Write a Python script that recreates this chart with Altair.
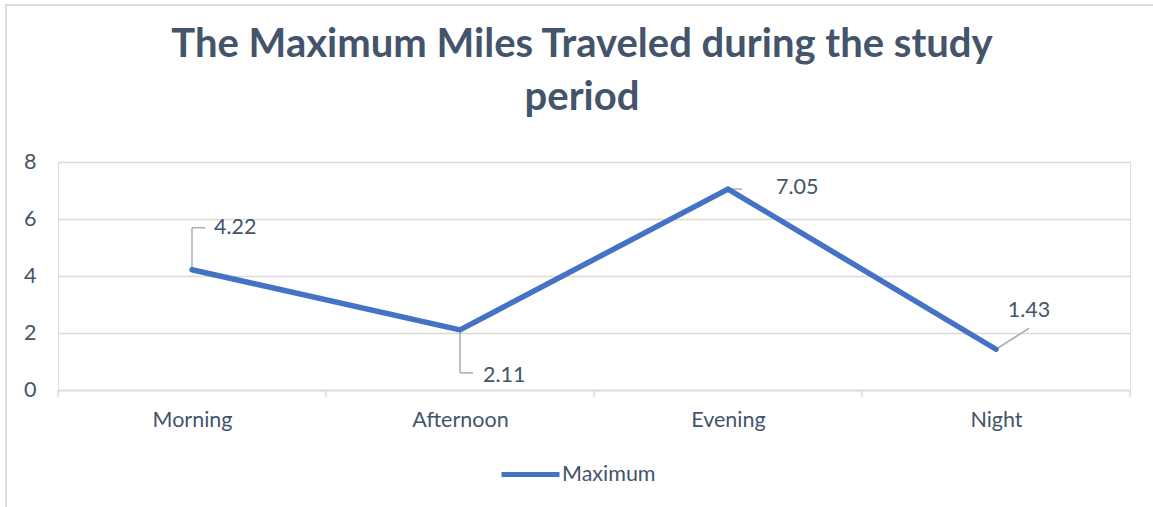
import altair as alt
import pandas as pd

categories = ["Morning", "Afternoon", "Evening", "Night"]
values = [4.22, 2.11, 7.05, 1.43]
labels = ["4.22", "2.11", "7.05", "1.43"]
series_name = "Maximum"
y_ticks = [0, 2, 4, 6, 8]

# pixel geometry of the plot area
W, H = 1072, 228
PX_X = W / 4.0      # px per category index
PX_Y = H / 8.0      # px per y unit

# label anchor offsets in px (dx right, dy up) relative to the point, and leader line paths
label_off = [(22, 42), (23, -46), (48, 1), (33, 38)]
leader_paths = [
    [(0, 0), (0, 42), (13, 42)],
    [(0, 0), (0, -43), (13, -43)],
    [(0, 0), (14, 0)],
    [(0, 0), (33, 21)],
]

idx = list(range(len(categories)))
df = pd.DataFrame({"i": idx, "cat": categories, "v": values, "series": [series_name] * 4})

lab_rows = []
for k in idx:
    dx, dy = label_off[k]
    lab_rows.append({"x": k + dx / PX_X, "y": values[k] + dy / PX_Y, "t": labels[k],
                     "align": "center" if k == 3 else "left"})
lab_df = pd.DataFrame(lab_rows)

seg_rows = []
for k in idx:
    p = leader_paths[k]
    for a, b in zip(p[:-1], p[1:]):
        seg_rows.append({"x": k + a[0] / PX_X, "y": values[k] + a[1] / PX_Y,
                         "x2": k + b[0] / PX_X, "y2": values[k] + b[1] / PX_Y})
seg_df = pd.DataFrame(seg_rows)

tick_df = pd.DataFrame({"x": [-0.5, 0.5, 1.5, 2.5, 3.5]})

FONT = "Lato"
TXT = "#44546A"
GRID = "#D9D9D9"
FS = 21.5

label_expr = "[" + ",".join("'%s'" % c for c in categories) + "][datum.value]"

xscale = alt.Scale(domain=[-0.5, 3.5], nice=False, zero=False)
yscale = alt.Scale(domain=[0, 8], nice=False)

frame = alt.Chart(pd.DataFrame({"a": [0]})).mark_rect(
    fill="transparent", stroke="#D9DCE3", strokeWidth=2
).encode(x=alt.value(-52), y=alt.value(-157), x2=alt.value(W + 40), y2=alt.value(H + 140))

line = alt.Chart(df).mark_line(strokeWidth=5.5, strokeCap="round", strokeJoin="miter").encode(
    x=alt.X("i:Q", scale=xscale,
            axis=alt.Axis(values=idx, labelExpr=label_expr, title=None, grid=False,
                          ticks=False, domainColor=GRID, domainWidth=1.5,
                          labelFont=FONT, labelFontSize=FS, labelColor=TXT,
                          labelPadding=19)),
    y=alt.Y("v:Q", scale=yscale,
            axis=alt.Axis(values=y_ticks, title=None, grid=True, gridColor=GRID,
                          gridWidth=1.5, domain=False, ticks=False,
                          labelFont=FONT, labelFontSize=FS, labelColor=TXT,
                          labelPadding=22)),
    color=alt.Color("series:N", scale=alt.Scale(range=["#4472C4"]),
                    legend=alt.Legend(title=None, orient="none", legendX=441, legendY=281,
                                      symbolType="stroke", symbolSize=3364,
                                      symbolStrokeWidth=5, labelFont=FONT,
                                      labelFontSize=FS, labelColor=TXT, labelOffset=0)),
)

ticks = alt.Chart(tick_df).mark_rule(color=GRID, strokeWidth=1.5).encode(
    x=alt.X("x:Q", scale=xscale), y=alt.value(H), y2=alt.value(H + 7)
)

leaders = alt.Chart(seg_df).mark_rule(color="#A6AEBB", strokeWidth=1.5).encode(
    x=alt.X("x:Q", scale=xscale), y=alt.Y("y:Q", scale=yscale),
    x2="x2:Q", y2="y2:Q"
)

text_left = alt.Chart(lab_df).transform_filter("datum.align == 'left'").mark_text(
    align="left", baseline="middle", font=FONT, fontSize=FS, color=TXT
).encode(x=alt.X("x:Q", scale=xscale), y=alt.Y("y:Q", scale=yscale), text="t:N")

text_center = alt.Chart(lab_df).transform_filter("datum.align == 'center'").mark_text(
    align="center", baseline="middle", font=FONT, fontSize=FS, color=TXT
).encode(x=alt.X("x:Q", scale=xscale), y=alt.Y("y:Q", scale=yscale), text="t:N")

chart = alt.layer(frame, ticks, leaders, line, text_left, text_center).properties(
    width=W, height=H,
    autosize=alt.AutoSizeParams(type="none"),
    padding={"left": 58, "top": 162, "right": 23, "bottom": 117},
    title=alt.TitleParams(
        text=["The Maximum Miles Traveled during the study", "period"],
        font=FONT, fontSize=40, fontWeight="bold", color=TXT,
        anchor="middle", dx=-12, offset=-114, lineHeight=53,
    ),
).configure_view(stroke=None).configure(background="white")

chart.save("out.html", embed_options={"renderer": "svg", "actions": False})
